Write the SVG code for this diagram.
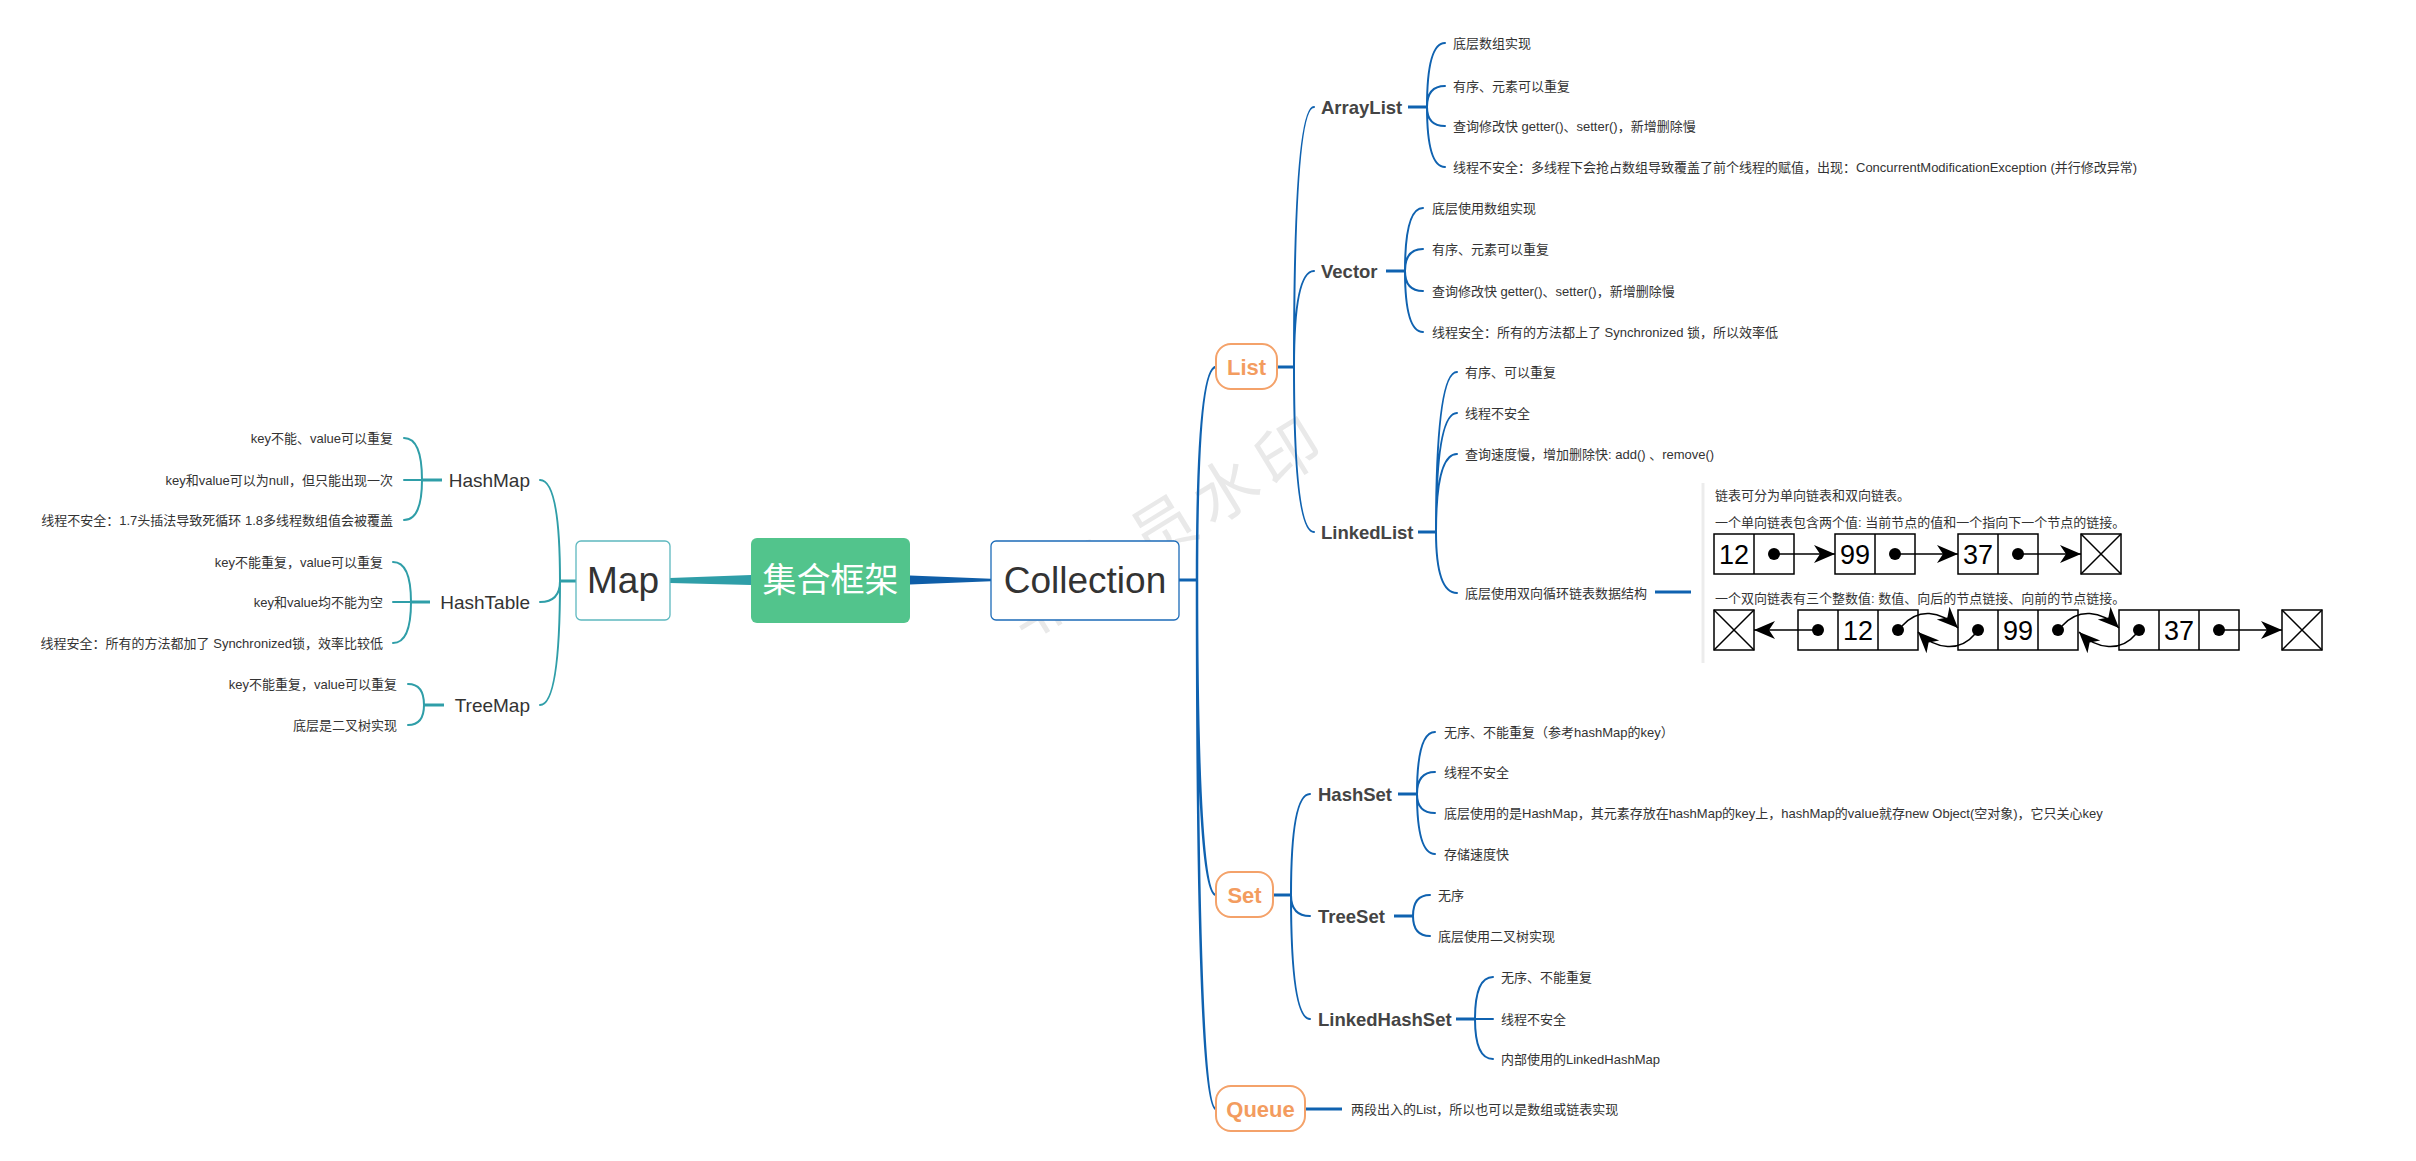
<svg xmlns="http://www.w3.org/2000/svg" width="2416" height="1161" viewBox="0 0 2416 1161">
<defs>
<style>
text{font-family:"Liberation Sans","Noto Sans CJK SC",sans-serif;dominant-baseline:central}
.b{fill:none;stroke:#0f62b0;stroke-width:2;stroke-linecap:round}
.bs{fill:none;stroke:#0f62b0;stroke-width:3}
.t{fill:none;stroke:#2f9ea8;stroke-width:2;stroke-linecap:round}
.ts{fill:none;stroke:#2f9ea8;stroke-width:3}
.leaf{font-size:13px;fill:#333}
.lr{font-size:13px;fill:#333;text-anchor:end}
.sub{font-size:18.5px;font-weight:bold;fill:#444}
.mapc{font-size:19px;fill:#333;text-anchor:end}
.cat{font-size:22px;font-weight:bold;fill:#f39c5f;text-anchor:middle}
.catbox{fill:#fff;stroke:#f4a26a;stroke-width:2}
.big{font-size:37px;fill:#333;text-anchor:middle}
.ll rect,.ll .ln{fill:none;stroke:#000;stroke-width:1.5}
.ll .ar{stroke:#000;stroke-width:1.5;fill:none;marker-end:url(#ah)}
.ll .num{font-size:27px;fill:#000;text-anchor:middle}
.ll .desc{font-size:13px;fill:#333}
</style>
<marker id="ah" markerUnits="userSpaceOnUse" markerWidth="22" markerHeight="20" viewBox="0 0 22 20" refX="21" refY="10" orient="auto">
<path d="M0,1 L21,10 L0,19 L6,10 Z" fill="#000"/>
</marker>
</defs>
<rect width="2416" height="1161" fill="#fff"/>

<text id="watermark" x="0" y="0" transform="translate(1168,527) rotate(-31.5)" style="font-size:64px;fill:#e9e9e9;text-anchor:middle;letter-spacing:9px">非会员水印</text>

<g id="connectors">
<polygon points="751,575 751,585 670,583 670,578" fill="#2f9ea8"/>
<polygon points="910,575.5 910,584.5 991,581.2 991,578.8" fill="#0f5ea8"/>
<!-- Map side -->
<path class="ts" d="M576,581 H560"/>
<path class="t" d="M560,581 Q560,480 540,480 M560,581 Q560,602 540,602 M560,581 Q560,705 540,705"/>
<path class="ts" d="M442,480 H422"/>
<path class="t" d="M422,480 Q422,438 404,438 M422,480 H404 M422,480 Q422,520 404,520"/>
<path class="ts" d="M430,602 H411"/>
<path class="t" d="M411,602 Q411,562 393,562 M411,602 H393 M411,602 Q411,643 393,643"/>
<path class="ts" d="M444,705 H424"/>
<path class="t" d="M424,705 Q424,684 408,684 M424,705 Q424,725 408,725"/>
<!-- Collection side -->
<path class="bs" d="M1179,580 H1197"/>
<path class="b" style="stroke-width:2.5" d="M1197,580 Q1197,367 1216,367 M1197,580 Q1197,895 1216,895 M1197,580 Q1197,1109 1216,1109"/>
<path class="bs" d="M1277,367 H1294"/>
<path class="b" d="M1294,367 Q1294,107 1314,107 M1294,367 Q1294,271 1314,271 M1294,367 Q1294,532 1314,532"/>
<path class="bs" d="M1408,107 H1427"/>
<path class="b" d="M1427,107 Q1427,43 1445,43 M1427,107 Q1427,86 1445,86 M1427,107 Q1427,126 1445,126 M1427,107 Q1427,167 1445,167"/>
<path class="bs" d="M1386,271 H1405"/>
<path class="b" d="M1405,271 Q1405,208 1423,208 M1405,271 Q1405,249 1423,249 M1405,271 Q1405,291 1423,291 M1405,271 Q1405,332 1423,332"/>
<path class="bs" d="M1418,532 H1436"/>
<path class="b" d="M1436,532 Q1436,372 1457,372 M1436,532 Q1436,413 1457,413 M1436,532 Q1436,454 1457,454 M1436,532 Q1436,593 1457,593"/>
<path class="bs" d="M1655,592 H1691"/>
<path class="bs" d="M1273,895 H1291"/>
<path class="b" d="M1291,895 Q1291,794 1310,794 M1291,895 Q1291,916 1310,916 M1291,895 Q1291,1019 1310,1019"/>
<path class="bs" d="M1398,794 H1417"/>
<path class="b" d="M1417,794 Q1417,732 1435,732 M1417,794 Q1417,772 1435,772 M1417,794 Q1417,813 1435,813 M1417,794 Q1417,854 1435,854"/>
<path class="bs" d="M1394,916 H1413"/>
<path class="b" d="M1413,916 Q1413,895 1430,895 M1413,916 Q1413,936 1430,936"/>
<path class="bs" d="M1456,1019 H1475"/>
<path class="b" d="M1475,1019 Q1475,977 1493,977 M1475,1019 H1493 M1475,1019 Q1475,1059 1493,1059"/>
<path class="bs" d="M1305,1109 H1342"/>
</g>

<g id="root">
<rect x="751" y="538" width="159" height="85" rx="6" fill="#52c48c"/>
<text x="830.5" y="580" style="font-size:34px;fill:#fff;text-anchor:middle">集合框架</text>
</g>
<g id="map">
<rect x="576" y="541" width="94" height="79" rx="5" fill="#fff" stroke="#5db8bf" stroke-width="1.3"/>
<text class="big" x="623" y="580">Map</text>
</g>
<g id="collection">
<rect x="991" y="541" width="188" height="79" rx="5" fill="#fff" stroke="#1c6bb8" stroke-width="1.3"/>
<text class="big" x="1085" y="580">Collection</text>
</g>

<g id="hashmap">
<text class="mapc" x="530" y="480">HashMap</text>
<text class="lr" x="393" y="438">key不能、value可以重复</text>
<text class="lr" x="393" y="480">key和value可以为null，但只能出现一次</text>
<text class="lr" x="393" y="520">线程不安全：1.7头插法导致死循环 1.8多线程数组值会被覆盖</text>
</g>
<g id="hashtable">
<text class="mapc" x="530" y="602">HashTable</text>
<text class="lr" x="383" y="562">key不能重复，value可以重复</text>
<text class="lr" x="383" y="602">key和value均不能为空</text>
<text class="lr" x="383" y="643">线程安全：所有的方法都加了 Synchronized锁，效率比较低</text>
</g>
<g id="treemap">
<text class="mapc" x="530" y="705">TreeMap</text>
<text class="lr" x="397" y="684">key不能重复，value可以重复</text>
<text class="lr" x="397" y="725">底层是二叉树实现</text>
</g>

<g id="list">
<rect class="catbox" x="1216" y="344" width="61" height="45" rx="15"/>
<text class="cat" x="1246.5" y="367">List</text>
</g>
<g id="arraylist">
<text class="sub" x="1321" y="107">ArrayList</text>
<text class="leaf" x="1453" y="43">底层数组实现</text>
<text class="leaf" x="1453" y="86">有序、元素可以重复</text>
<text class="leaf" x="1453" y="126">查询修改快 getter()、setter()，新增删除慢</text>
<text class="leaf" x="1453" y="167">线程不安全：多线程下会抢占数组导致覆盖了前个线程的赋值，出现：ConcurrentModificationException (并行修改异常)</text>
</g>
<g id="vector">
<text class="sub" x="1321" y="271">Vector</text>
<text class="leaf" x="1432" y="208">底层使用数组实现</text>
<text class="leaf" x="1432" y="249">有序、元素可以重复</text>
<text class="leaf" x="1432" y="291">查询修改快 getter()、setter()，新增删除慢</text>
<text class="leaf" x="1432" y="332">线程安全：所有的方法都上了 Synchronized 锁，所以效率低</text>
</g>
<g id="linkedlist">
<text class="sub" x="1321" y="532">LinkedList</text>
<text class="leaf" x="1465" y="372">有序、可以重复</text>
<text class="leaf" x="1465" y="413">线程不安全</text>
<text class="leaf" x="1465" y="454">查询速度慢，增加删除快: add() 、remove()</text>
<text class="leaf" x="1465" y="593">底层使用双向循环链表数据结构</text>
</g>

<g id="linkedlist-image" class="ll">
<path d="M1703,483 V663" stroke="#ececec" stroke-width="3"/>
<text class="desc" x="1715" y="495">链表可分为单向链表和双向链表。</text>
<text class="desc" x="1715" y="522">一个单向链表包含两个值: 当前节点的值和一个指向下一个节点的链接。</text>
<rect x="1714" y="534" width="80" height="40"/><path class="ln" d="M1754,534 V574"/>
<text class="num" x="1734" y="555">12</text><circle cx="1774" cy="554" r="6"/>
<path class="ar" d="M1774,554 H1835"/>
<rect x="1835" y="534" width="80" height="40"/><path class="ln" d="M1875,534 V574"/>
<text class="num" x="1855" y="555">99</text><circle cx="1895" cy="554" r="6"/>
<path class="ar" d="M1895,554 H1958"/>
<rect x="1958" y="534" width="80" height="40"/><path class="ln" d="M1998,534 V574"/>
<text class="num" x="1978" y="555">37</text><circle cx="2018" cy="554" r="6"/>
<path class="ar" d="M2018,554 H2081"/>
<rect x="2081" y="534" width="40" height="40"/><path class="ln" d="M2081,534 L2121,574 M2121,534 L2081,574"/>

<text class="desc" x="1715" y="598">一个双向链表有三个整数值: 数值、向后的节点链接、向前的节点链接。</text>
<rect x="1714" y="610" width="40" height="40"/><path class="ln" d="M1714,610 L1754,650 M1754,610 L1714,650"/>
<rect x="1798" y="610" width="120" height="40"/><path class="ln" d="M1838,610 V650 M1878,610 V650"/>
<circle cx="1818" cy="630" r="6"/><text class="num" x="1858" y="631">12</text><circle cx="1898" cy="630" r="6"/>
<rect x="1958" y="610" width="120" height="40"/><path class="ln" d="M1998,610 V650 M2038,610 V650"/>
<circle cx="1978" cy="630" r="6"/><text class="num" x="2018" y="631">99</text><circle cx="2058" cy="630" r="6"/>
<rect x="2119" y="610" width="120" height="40"/><path class="ln" d="M2159,610 V650 M2199,610 V650"/>
<circle cx="2139" cy="630" r="6"/><text class="num" x="2179" y="631">37</text><circle cx="2219" cy="630" r="6"/>
<rect x="2282" y="610" width="40" height="40"/><path class="ln" d="M2282,610 L2322,650 M2322,610 L2282,650"/>
<path class="ar" d="M1818,630 H1754"/>
<path class="ar" d="M2219,630 H2282"/>
<path class="ar" d="M1902,626 C1918,608 1940,610 1958,628"/>
<path class="ar" d="M1975,634 C1960,652 1936,650 1918,632"/>
<path class="ar" d="M2062,626 C2078,608 2101,610 2119,628"/>
<path class="ar" d="M2136,634 C2121,652 2097,650 2079,632"/>
</g>

<g id="set">
<rect class="catbox" x="1216" y="872" width="57" height="45" rx="15"/>
<text class="cat" x="1244.5" y="895">Set</text>
</g>
<g id="hashset">
<text class="sub" x="1318" y="794">HashSet</text>
<text class="leaf" x="1444" y="732">无序、不能重复（参考hashMap的key）</text>
<text class="leaf" x="1444" y="772">线程不安全</text>
<text class="leaf" x="1444" y="813">底层使用的是HashMap，其元素存放在hashMap的key上，hashMap的value就存new Object(空对象)，它只关心key</text>
<text class="leaf" x="1444" y="854">存储速度快</text>
</g>
<g id="treeset">
<text class="sub" x="1318" y="916">TreeSet</text>
<text class="leaf" x="1438" y="895">无序</text>
<text class="leaf" x="1438" y="936">底层使用二叉树实现</text>
</g>
<g id="linkedhashset">
<text class="sub" x="1318" y="1019">LinkedHashSet</text>
<text class="leaf" x="1501" y="977">无序、不能重复</text>
<text class="leaf" x="1501" y="1019">线程不安全</text>
<text class="leaf" x="1501" y="1059">内部使用的LinkedHashMap</text>
</g>
<g id="queue">
<rect class="catbox" x="1216" y="1086" width="89" height="45" rx="15"/>
<text class="cat" x="1260.5" y="1109">Queue</text>
<text class="leaf" x="1351" y="1109">两段出入的List，所以也可以是数组或链表实现</text>
</g>
</svg>
